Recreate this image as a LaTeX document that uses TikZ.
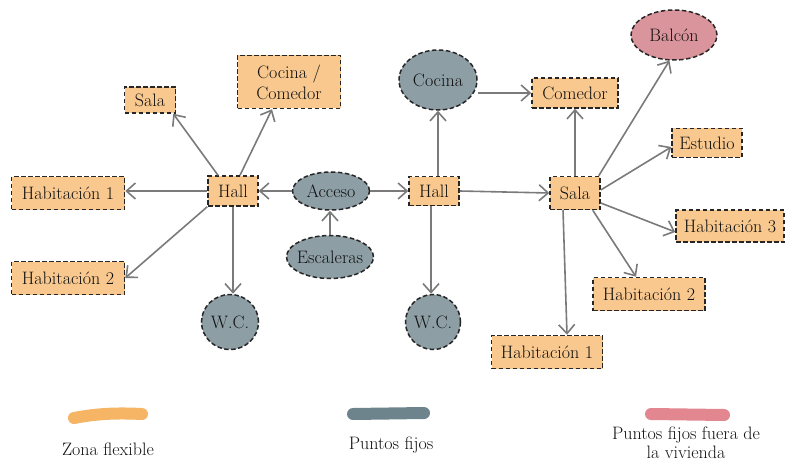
\documentclass[tikz,border=0pt]{standalone}
\usepackage{fontspec}
\usetikzlibrary{shapes.geometric,arrows.meta}

\definecolor{flexfill}{HTML}{F8C88E}
\definecolor{flexpaint}{HTML}{F5B565}
\definecolor{fixfill}{HTML}{8D9EA5}
\definecolor{fixpaint}{HTML}{6E848C}
\definecolor{outfill}{HTML}{DA949B}
\definecolor{outpaint}{HTML}{E2878F}
\definecolor{arrowgray}{HTML}{7A7A7A}
\definecolor{inkgray}{HTML}{111111}

\tikzset{
  lbl/.style={font=\fontsize{18}{21}\selectfont, text=inkgray},
  border/.style={draw=black!85, line width=1.5pt, dash pattern=on 4.5pt off 2.5pt},
  flexbox/.style={lbl, border, fill=flexfill, rectangle, inner sep=0pt, align=center},
  fixnode/.style={lbl, border, fill=fixfill, ellipse, inner sep=0pt, inner xsep=-8pt},
  outnode/.style={lbl, border, fill=outfill, ellipse, inner sep=0pt, inner xsep=-8pt},
  arr/.style={draw=arrowgray, line width=1.6pt, -{Straight Barb[length=9pt,width=16pt]}},
  paint/.style={line width=12pt, line cap=round},
  legend/.style={font=\fontsize{18}{19}\selectfont, text=inkgray, align=center}
}

\begin{document}
\begin{tikzpicture}[x=1pt,y=-1pt]
\useasboundingbox (0,0) rectangle (786,465);

% --- left dwelling ---
\node[flexbox, minimum width=51pt, minimum height=26pt] (salaL) at (150,100) {Sala};
\node[flexbox, minimum width=103pt, minimum height=53pt] (coccom) at (289,82) {Cocina /\\Comedor};
\node[flexbox, minimum width=113pt, minimum height=33pt] (hab1L) at (68,193) {Habitación 1};
\node[flexbox, minimum width=113pt, minimum height=33pt] (hab2L) at (68,278) {Habitación 2};
\node[flexbox, minimum width=50pt, minimum height=30pt] (hallL) at (233,191) {Hall};
\node[fixnode, minimum width=57pt, minimum height=55pt] (wcL) at (230,322) {W.C.};

% --- shared access ---
\node[fixnode, minimum width=77pt, minimum height=38pt] (acceso) at (331,191) {Acceso};
\node[fixnode, minimum width=87pt, minimum height=43pt] (escaleras) at (330,257) {Escaleras};

% --- right dwelling ---
\node[flexbox, minimum width=50pt, minimum height=29pt] (hallM) at (434,191) {Hall};
\node[fixnode, minimum width=55pt, minimum height=55pt] (wcM) at (433,322) {W.C.};
\node[fixnode, minimum width=78pt, minimum height=60pt] (cocina) at (438,80) {Cocina};
\node[flexbox, minimum width=86pt, minimum height=30pt] (comedor) at (575,93) {Comedor};
\node[outnode, minimum width=86pt, minimum height=50pt] (balcon) at (674,35) {Balcón};
\node[flexbox, minimum width=70pt, minimum height=29pt] (estudio) at (707,143) {Estudio};
\node[flexbox, minimum width=50pt, minimum height=33pt] (salaR) at (575,193) {Sala};
\node[flexbox, minimum width=108pt, minimum height=32pt] (hab3R) at (730,226) {Habitación 3};
\node[flexbox, minimum width=112pt, minimum height=33pt] (hab2R) at (649,294) {Habitación 2};
\node[flexbox, minimum width=111pt, minimum height=33pt] (hab1R) at (547,352) {Habitación 1};

% --- connectors, left ---
\draw[arr] ([xshift=-15pt]hallL.north) -- ([xshift=-3pt]salaL.south east);
\draw[arr] ([xshift=7pt]hallL.north) -- ([xshift=-17pt]coccom.south);
\draw[arr] (hallL.west) -- (hab1L.east |- hallL.west);
\draw[arr] (hallL.south west) -- (hab2L.east);
\draw[arr] (hallL.south) -- (hallL.south |- wcL.north);
\draw[arr] (acceso.west) -- (hallL.east);
\draw[arr] (escaleras.north) -- (escaleras.north |- acceso.south);

% --- connectors, right ---
\draw[arr] (acceso.east) -- (hallM.west);
\draw[arr] (cocina.south |- hallM.north) -- (cocina.south);
\draw[arr] ([xshift=-3pt]hallM.south) -- ([xshift=-3pt]hallM.south |- wcM.north);
\draw[arr] (hallM.east) -- (salaR.west);
\draw[arr] (cocina.east |- comedor.west) -- (comedor.west);
\draw[arr] (salaR.north) -- (comedor.south);
\draw[arr] ([xshift=-2pt]salaR.north east) -- (balcon.-100);
\draw[arr] ([yshift=3pt]salaR.east) -- ([yshift=-4pt]estudio.west);
\draw[arr] ([yshift=-10pt]salaR.east) -- ([yshift=-6pt]hab3R.west);
\draw[arr] ([xshift=-8pt]salaR.south east) -- ([xshift=-13pt]hab2R.north);
\draw[arr] ([xshift=-12pt]salaR.south) -- ([xshift=20pt]hab1R.north);

% --- legend ---
\draw[paint, flexpaint] (74,418) .. controls (100,413) and (120,413) .. (142,414);
\draw[paint, fixpaint] (353,414) -- (424,413);
\draw[paint, outpaint] (651,414) -- (724,415);
\node[legend] (legflex) at (108,449) {Zona flexible};
\node[legend] (legfix) at (391,445) {Puntos fijos};
\node[legend] (legout) at (686,443) {Puntos fijos fuera de\\la vivienda};
\end{tikzpicture}
\end{document}
